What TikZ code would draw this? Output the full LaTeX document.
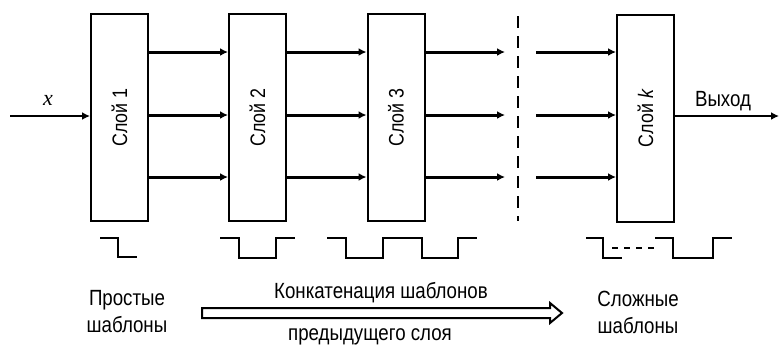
\documentclass[tikz,border=0pt]{standalone}
\usepackage{fontspec}
\setmainfont{Liberation Sans}[FakeStretch=0.85]
\newfontfamily\serifx{Liberation Serif}
\usetikzlibrary{arrows.meta}
\begin{document}
\begin{tikzpicture}[x=1pt,y=1pt,
  layer/.style={draw,line width=2pt,minimum width=57pt,minimum height=207pt,inner sep=0pt,font=\fontsize{21}{24}\selectfont},
  arr/.style={line width=3pt,-{Latex[length=8pt,width=8pt]}},
  thinarr/.style={line width=2.2pt,-{Latex[length=8pt,width=8pt]}},
  wave/.style={line width=2.5pt,line join=miter},
  lbl/.style={font=\fontsize{22}{25}\selectfont,inner sep=0pt,align=center}]
\useasboundingbox (0,0) rectangle (779,-346);
% layers
\node[layer] (b1) at (119.5,-117.5) {\rotatebox{90}{Слой 1}};
\node[layer] (b2) at (257.5,-117.5) {\rotatebox{90}{Слой 2}};
\node[layer] (b3) at (396,-117.5) {\rotatebox{90}{Слой 3}};
\node[layer] (bk) at (645.5,-118) {\rotatebox{90}{Слой \textit{k}}};
% rows
\coordinate (r1) at (0,-52);
\coordinate (r2) at (0,-115);
\coordinate (r3) at (0,-177);
\coordinate (rin) at (0,-116);
% free ends
\coordinate (xin) at (10,-116);
\coordinate (xout) at (779,-116);
\coordinate (e1) at (505,-52);
\coordinate (e2) at (505,-115);
\coordinate (e3) at (505,-177);
\coordinate (s1) at (536,-52);
\coordinate (s2) at (536,-115);
\coordinate (s3) at (536,-177);
% input/output
\draw[thinarr] (xin) -- (b1.west |- rin);
\node[font=\serifx\itshape\fontsize{22}{24}\selectfont] (xl) at (48,-100) {x};
\draw[thinarr] (bk.east |- rin) -- (xout);
\node[lbl] (out) at (723,-101) {Выход};
% between layers
\foreach \r in {r1,r2,r3}{
  \draw[arr] (b1.east |- \r) -- (b2.west |- \r);
  \draw[arr] (b2.east |- \r) -- (b3.west |- \r);
}
\draw[arr] (b3.east |- e1) -- (e1);
\draw[arr] (b3.east |- e2) -- (e2);
\draw[arr] (b3.east |- e3) -- (e3);
\draw[arr] (s1) -- (bk.west |- s1);
\draw[arr] (s2) -- (bk.west |- s2);
\draw[arr] (s3) -- (bk.west |- s3);
% dashed separator
\draw[line width=2pt,dash pattern=on 12pt off 8pt] (518,-16) -- (518,-221);
% waveforms
\draw[wave] (100,-238) -- (118,-238) -- (118,-257) -- (137,-257);
\draw[wave] (220,-238) -- (239,-238) -- (239,-258) -- (276,-258) -- (276,-238) -- (295,-238);
\draw[wave] (327,-238) -- (346,-238) -- (346,-258) -- (383,-258) -- (383,-238) -- (422,-238) -- (422,-258) -- (458,-258) -- (458,-238) -- (477,-238);
\draw[wave] (586,-238) -- (603,-238) -- (603,-258) -- (622,-258);
\draw[line width=1.8pt,dash pattern=on 6pt off 6pt] (612,-248) -- (658,-248);
\draw[wave] (655,-238) -- (673,-238) -- (673,-258) -- (713,-258) -- (713,-238) -- (732,-238);
% bottom labels
\node[lbl] (simple) at (127,-312) {Простые\\[2pt]шаблоны};
\node[lbl] (complex) at (638,-312) {Сложные\\[2pt]шаблоны};
\node[lbl] (concat) at (381,-293) {Конкатенация шаблонов};
\node[lbl] (prev) at (370,-337) {предыдущего слоя};
% hollow arrow
\draw[line width=2pt,line join=miter] (202,-308) -- (550,-308) -- (550,-303) -- (562,-313) -- (550,-323) -- (550,-318) -- (202,-318) -- cycle;
\end{tikzpicture}
\end{document}
